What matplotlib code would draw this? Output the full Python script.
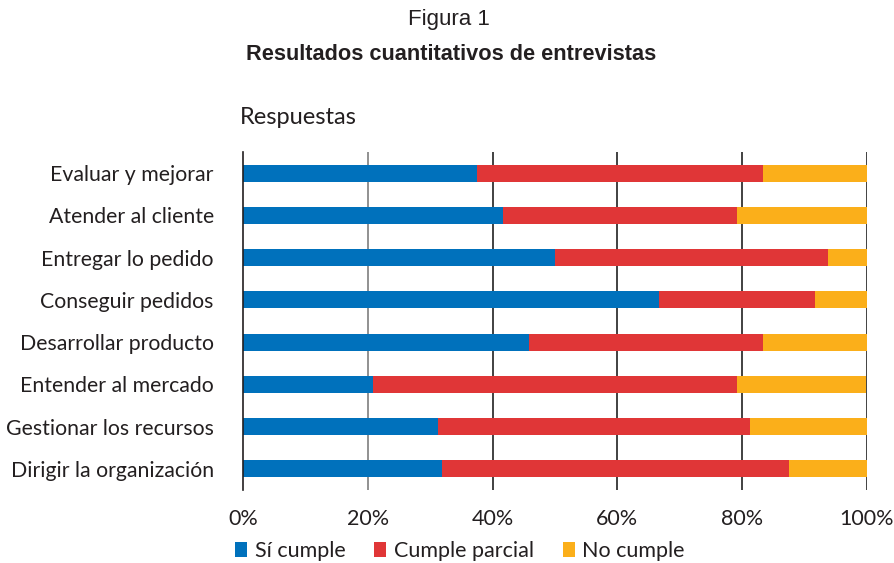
import matplotlib.pyplot as plt
import numpy as np

categorias = ["Evaluar y mejorar", "Atender al cliente", "Entregar lo pedido",
              "Conseguir pedidos", "Desarrollar producto", "Entender al mercado",
              "Gestionar los recursos", "Dirigir la organización"]
si_cumple = [37.5, 41.7, 50.0, 66.7, 45.8, 20.8, 31.25, 31.9]
cumple_parcial = [45.8, 37.5, 43.75, 25.0, 37.5, 58.3, 50.0, 55.6]
no_cumple = [16.7, 20.8, 6.25, 8.3, 16.7, 20.8, 18.75, 12.5]
series = ["Sí cumple", "Cumple parcial", "No cumple"]
ticks = [0, 20, 40, 60, 80, 100]

colores = ["#0071BC", "#E03637", "#FBAF1A"]
font = "Lato"
titulo_font = "Liberation Sans"

fig = plt.figure(figsize=(8.95, 5.63), dpi=100)
ax = fig.add_axes([243 / 895, 1 - 490 / 563, 624 / 895, 338 / 563])

y = np.arange(len(categorias))
left = np.zeros(len(categorias))
for vals, nombre, c in zip([si_cumple, cumple_parcial, no_cumple], series, colores):
    ax.barh(y, vals, left=left, height=0.4, color=c, label=nombre, zorder=3)
    left = left + np.array(vals)

# vertical grid lines
for t in ticks[1:]:
    ax.axvline(t, color="#888888" if t == 20 else "#333333", lw=1.3, zorder=1)

ax.set_xlim(0, 100)
ax.set_ylim(len(categorias) - 0.5, -0.5)
ax.set_yticks(y)
ax.set_yticklabels(categorias, fontsize=15.3, family=font, color="#231f20")
ax.set_xticks(ticks)
ax.set_xticklabels([f"{t}%" for t in ticks], fontsize=15.5, family=font, color="#231f20")
ax.tick_params(axis="y", length=0, pad=21)
ax.tick_params(axis="x", length=0, pad=14)
for s in ["top", "right", "bottom"]:
    ax.spines[s].set_visible(False)
ax.spines["left"].set_color("#231f20")
ax.spines["left"].set_linewidth(1.2)
ax.spines["left"].set_zorder(4)

fig.text(449 / 895, 1 - 20 / 563, "Figura 1", ha="center", va="center",
         fontsize=16, family=titulo_font, color="#231f20")
fig.text(451 / 895, 1 - 55 / 563, "Resultados cuantitativos de entrevistas", ha="center",
         va="center", fontsize=15.7, fontweight="bold", family=titulo_font,
         color="#231f20")
fig.text(240 / 895, 1 - 118 / 563, "Respuestas", ha="left", va="center",
         fontsize=17, family=font, color="#231f20")

leg = fig.legend(loc="center", bbox_to_anchor=(460 / 895, 1 - 551 / 563), ncol=3,
                 frameon=False, handlelength=0.55, handleheight=0.7, handletextpad=0.35,
                 columnspacing=1.35, prop={"family": font, "size": 15.5})
for t in leg.get_texts():
    t.set_color("#231f20")

fig.savefig("out.png", dpi=100)
